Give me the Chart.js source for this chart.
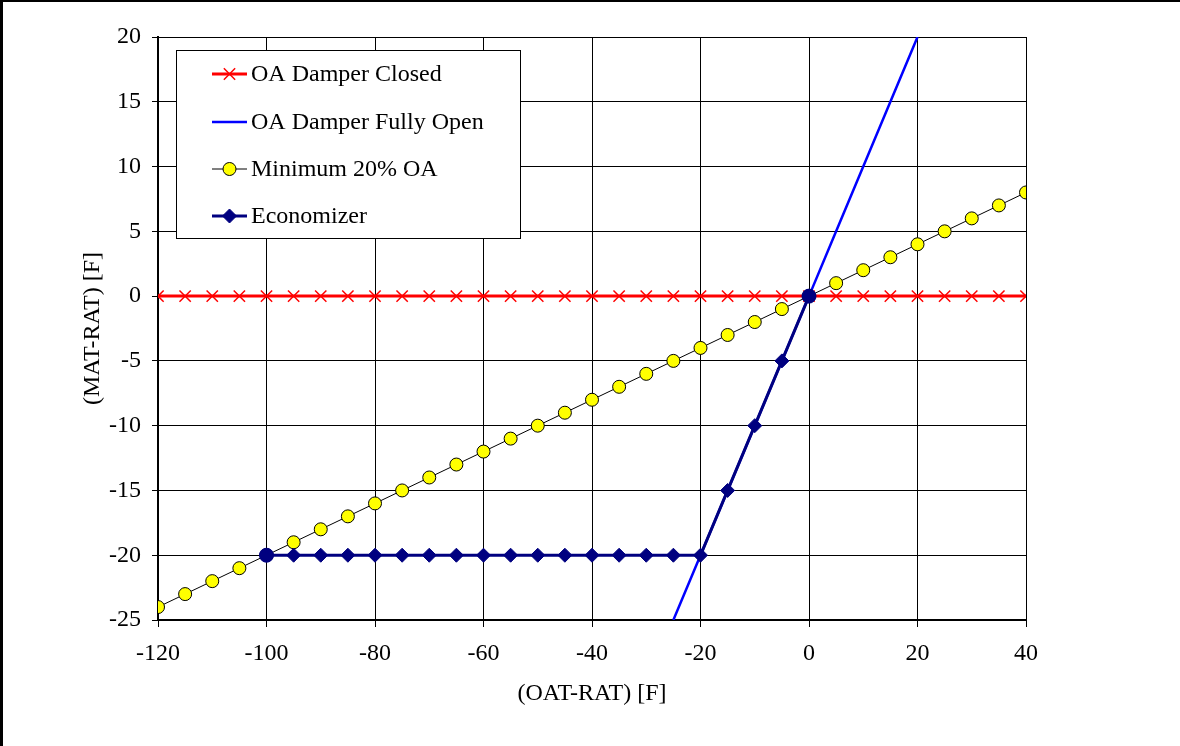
<!doctype html>
<html lang="en">
  <head>
    <meta charset="utf-8">
    <title>Mixed Air Temperature vs Outside Air Temperature</title>
    <style>
      * {
        margin: 0;
        padding: 0;
      }
      body {
        background: white;
      }
      .chartBox {
        width: 1180px;
        height: 746px;
      }
    </style>
  </head>
  <body>
    <div class="chartBox">
      <canvas id="myChart"></canvas>
    </div>

    <script type="text/javascript" src="https://cdn.jsdelivr.net/npm/chart.js"></script>
    <script>
    // setup
    const seriesNames = ['OA Damper Closed', 'OA Damper Fully Open', 'Minimum 20% OA', 'Economizer'];

    const oatRat = [-120, -115, -110, -105, -100, -95, -90, -85, -80, -75, -70, -65, -60, -55, -50, -45,
                    -40, -35, -30, -25, -20, -15, -10, -5, 0, 5, 10, 15, 20, 25, 30, 35, 40];
    const closedMat = [0, 0, 0, 0, 0, 0, 0, 0, 0, 0, 0, 0, 0, 0, 0, 0,
                       0, 0, 0, 0, 0, 0, 0, 0, 0, 0, 0, 0, 0, 0, 0, 0, 0];
    const minOaMat = [-24, -23, -22, -21, -20, -19, -18, -17, -16, -15, -14, -13, -12, -11, -10, -9,
                      -8, -7, -6, -5, -4, -3, -2, -1, 0, 1, 2, 3, 4, 5, 6, 7, 8];

    const openOat = [-25, -20, -15, -10, -5, 0, 5, 10, 15, 20];
    const openMat = [-25, -20, -15, -10, -5, 0, 5, 10, 15, 20];

    const econOat = [-100, -95, -90, -85, -80, -75, -70, -65, -60, -55, -50, -45, -40, -35, -30, -25,
                     -20, -15, -10, -5, 0];
    const econMat = [-20, -20, -20, -20, -20, -20, -20, -20, -20, -20, -20, -20, -20, -20, -20, -20,
                     -20, -15, -10, -5, 0];

    const xTicks = [-120, -100, -80, -60, -40, -20, 0, 20, 40];
    const yTicks = [-25, -20, -15, -10, -5, 0, 5, 10, 15, 20];

    function pairs(xs, ys) {
      return xs.map((x, i) => ({x: x, y: ys[i]}));
    }

    const FONT = '"Liberation Serif", "Times New Roman", serif';

    // white page with the black frame on left and top
    const framePlugin = {
      id: 'frame',
      beforeDraw(chart) {
        const ctx = chart.ctx;
        ctx.save();
        ctx.fillStyle = '#fff';
        ctx.fillRect(0, 0, chart.width, chart.height);
        ctx.fillStyle = '#000';
        ctx.fillRect(0, 0, 3, chart.height);
        ctx.fillRect(0, 0, chart.width, 2);
        ctx.restore();
      }
    };

    // legend markers (the economizer uses a per-point style array on the chart)
    const legendMarks = [
      {style: 'crossRot', radius: 8},
      null,
      {style: 'circle', radius: 6.5},
      {style: 'rectRot', radius: 7}
    ];

    // boxed legend sitting inside the plot area, like the spreadsheet one
    const boxLegend = {
      id: 'boxLegend',
      afterDatasetsDraw(chart) {
        const ctx = chart.ctx;
        const bx = 176.5, by = 50.5, bw = 344, bh = 188;
        ctx.save();
        ctx.fillStyle = '#fff';
        ctx.fillRect(bx, by, bw, bh);
        ctx.strokeStyle = '#000';
        ctx.lineWidth = 1;
        ctx.strokeRect(bx, by, bw, bh);

        const rows = [74, 122, 169, 216];
        chart.data.datasets.forEach((ds, i) => {
          const y = rows[i];
          ctx.strokeStyle = ds.borderColor;
          ctx.lineWidth = ds.borderWidth;
          ctx.beginPath();
          ctx.moveTo(212, y);
          ctx.lineTo(247, y);
          ctx.stroke();
          const mark = legendMarks[i];
          if (mark) {
            ctx.fillStyle = ds.pointBackgroundColor;
            ctx.strokeStyle = ds.pointBorderColor;
            ctx.lineWidth = ds.pointBorderWidth;
            Chart.helpers.drawPoint(ctx, {
              pointStyle: mark.style,
              radius: mark.radius,
              rotation: 0,
              borderWidth: ds.pointBorderWidth
            }, 229.5, y);
          }
          ctx.fillStyle = '#000';
          ctx.font = '24px ' + FONT;
          ctx.textBaseline = 'middle';
          ctx.textAlign = 'left';
          ctx.fillText(ds.label, 251, y + 1);
        });
        ctx.restore();
      }
    };

    const econStyles = econOat.map(x => (x === -100 || x === 0) ? 'circle' : 'rectRot');
    const econRadius = econOat.map(x => (x === -100 || x === 0) ? 7 : 7);

    const data = {
      datasets: [{
        label: seriesNames[0],
        data: pairs(oatRat, closedMat),
        showLine: true,
        borderColor: '#ff0000',
        borderWidth: 3,
        pointStyle: 'crossRot',
        pointRadius: 8,
        pointBorderColor: '#ff0000',
        pointBackgroundColor: '#ff0000',
        pointBorderWidth: 1.5,
        order: 4
      }, {
        label: seriesNames[1],
        data: pairs(openOat, openMat),
        showLine: true,
        borderColor: '#0000ff',
        borderWidth: 2.5,
        pointRadius: 0,
        order: 3
      }, {
        label: seriesNames[2],
        data: pairs(oatRat, minOaMat),
        showLine: true,
        borderColor: '#000000',
        borderWidth: 1,
        pointStyle: 'circle',
        pointRadius: 6.5,
        pointBackgroundColor: '#ffff00',
        pointBorderColor: '#000000',
        pointBorderWidth: 1,
        order: 2
      }, {
        label: seriesNames[3],
        data: pairs(econOat, econMat),
        showLine: true,
        borderColor: '#000080',
        borderWidth: 3,
        pointStyle: econStyles,
        pointRadius: econRadius,
        pointBackgroundColor: '#000080',
        pointBorderColor: '#000080',
        pointBorderWidth: 1,
        order: 1
      }]
    };

    // config
    const config = {
      type: 'scatter',
      data,
      options: {
        responsive: true,
        maintainAspectRatio: false,
        animation: false,
        events: [],
        layout: {
          padding: {left: 0, top: 37, right: 154, bottom: 0}
        },
        plugins: {
          legend: {display: false},
          tooltip: {enabled: false}
        },
        scales: {
          x: {
            type: 'linear',
            min: -120,
            max: 40,
            afterFit: (scale) => { scale.height = 126; },
            afterBuildTicks: (scale) => { scale.ticks = xTicks.map(v => ({value: v})); },
            ticks: {
              color: '#000',
              font: {family: FONT, size: 24},
              padding: 12,
              maxRotation: 0
            },
            grid: {
              color: '#000',
              lineWidth: 1,
              tickLength: 7,
              tickColor: '#000'
            },
            border: {color: '#000', width: 2},
            title: {
              display: true,
              text: '(OAT-RAT) [F]',
              color: '#000',
              font: {family: FONT, size: 24},
              padding: {top: 0, bottom: 38}
            }
          },
          y: {
            type: 'linear',
            min: -25,
            max: 20,
            afterFit: (scale) => { scale.width = 158; },
            afterBuildTicks: (scale) => { scale.ticks = yTicks.map(v => ({value: v})); },
            ticks: {
              color: '#000',
              font: {family: FONT, size: 24},
              padding: 11
            },
            grid: {
              color: '#000',
              lineWidth: 1,
              tickLength: 6,
              tickColor: '#000'
            },
            border: {color: '#000', width: 2},
            title: {
              display: true,
              text: '(MAT-RAT) [F]',
              color: '#000',
              font: {family: FONT, size: 24},
              padding: {top: 78, bottom: 0}
            }
          }
        }
      },
      plugins: [framePlugin, boxLegend]
    };

    // render init block
    const myChart = new Chart(
      document.getElementById('myChart'),
      config
    );
    </script>
  </body>
</html>
